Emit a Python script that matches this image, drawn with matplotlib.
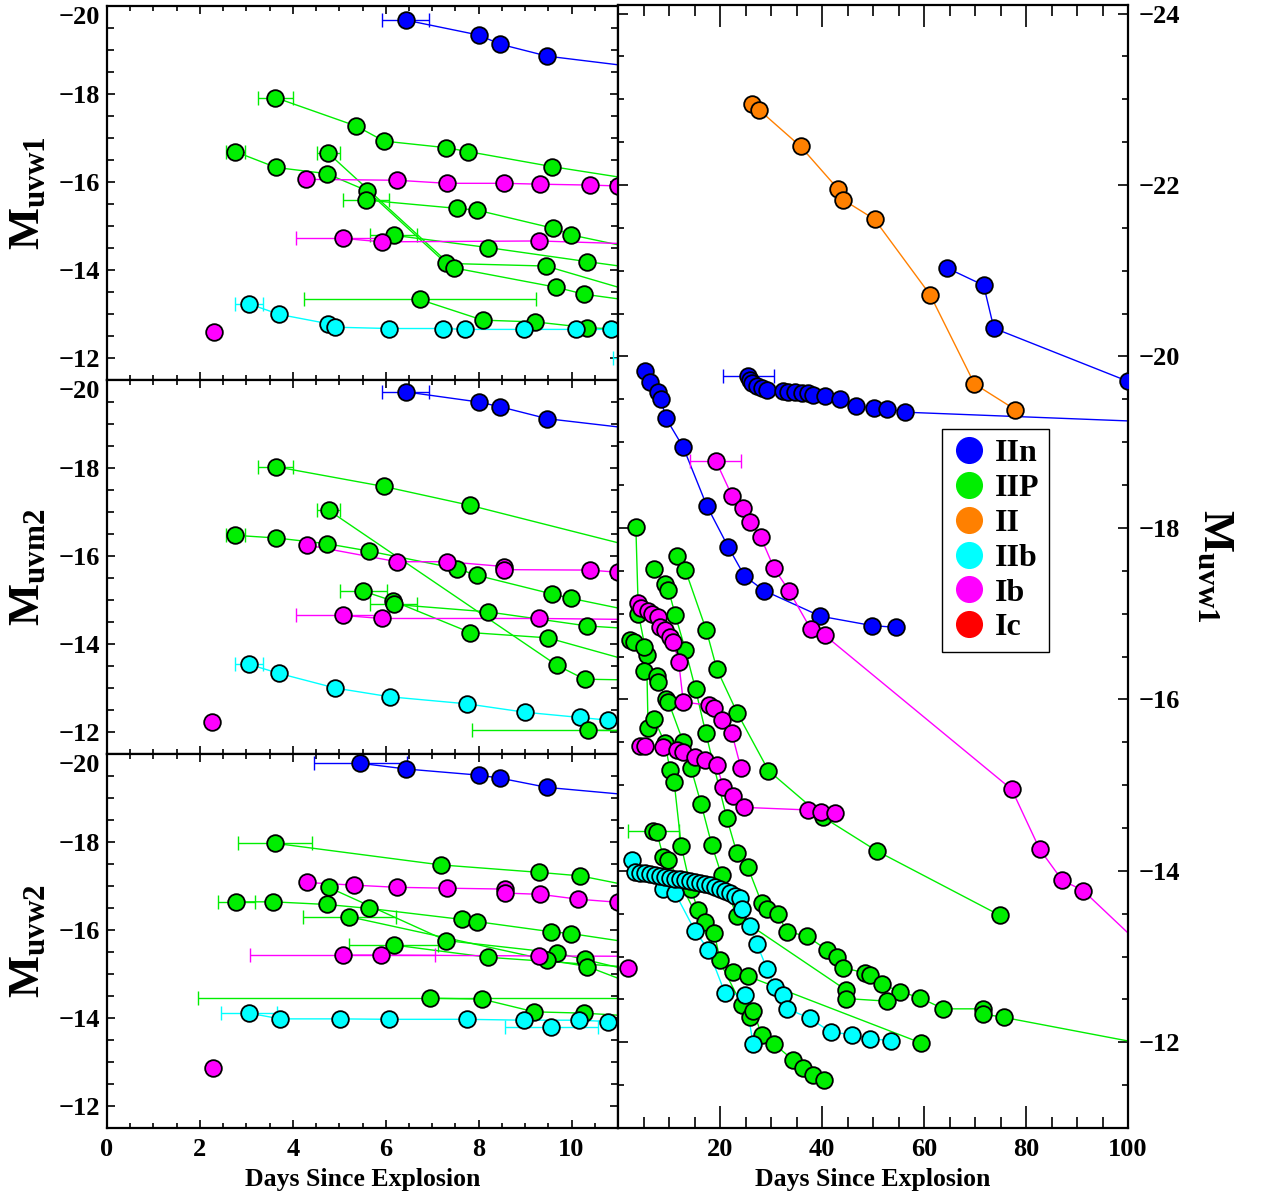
import matplotlib.pyplot as plt
from matplotlib.lines import Line2D
from matplotlib.ticker import MultipleLocator, FixedLocator

plt.rcParams['font.family'] = ['Liberation Serif', 'DejaVu Serif']
plt.rcParams['font.weight'] = 'bold'
plt.rcParams['axes.labelweight'] = 'bold'
plt.rcParams['mathtext.fontset'] = 'custom'
plt.rcParams['mathtext.rm'] = 'Liberation Serif:bold'
plt.rcParams['mathtext.bf'] = 'Liberation Serif:bold'

types = ['IIn', 'IIP', 'II', 'IIb', 'Ib', 'Ic']
colors = {'IIn': '#0000ff', 'IIP': '#00ee00', 'II': '#ff8000',
          'IIb': '#00ffff', 'Ib': '#ff00ff', 'Ic': '#ff0000'}

# ---- uvw1, first 11 days (top left) ----
w1_iin_x = [6.43, 8.0, 8.47, 9.48, 12.5]
w1_iin_y = [-19.68, -19.34, -19.13, -18.86, -18.47]
w1_iin_err = 0.5
w1_iip_a_x = [3.62, 5.37, 5.96, 7.30, 7.78, 9.58, 12.0]
w1_iip_a_y = [-17.92, -17.27, -16.93, -16.78, -16.69, -16.35, -15.95]
w1_iip_a_err = 0.38
w1_iip_b_x = [2.76, 3.64, 4.73, 5.60, 7.30, 9.45, 12.0]
w1_iip_b_y = [-16.69, -16.33, -16.19, -15.80, -14.15, -14.09, -13.3]
w1_iip_b_err = 0.2
w1_iip_c_x = [4.76, 7.46, 9.66, 10.27, 12.0]
w1_iip_c_y = [-16.66, -14.05, -13.61, -13.45, -13.2]
w1_iip_c_err = 0.25
w1_iip_d_x = [5.57, 7.54, 7.97, 9.60, 9.98, 12.0]
w1_iip_d_y = [-15.59, -15.40, -15.36, -14.95, -14.80, -14.35]
w1_iip_d_err = 0.5
w1_iip_e_x = [6.17, 8.2, 10.34, 12.0]
w1_iip_e_y = [-14.79, -14.51, -14.19, -13.95]
w1_iip_e_err = 0.5
w1_iip_f_x = [6.73, 8.09, 9.22, 10.34, 12.0]
w1_iip_f_y = [-13.33, -12.86, -12.82, -12.69, -12.6]
w1_iip_f_err = 2.5
w1_ib_a_x = [4.29, 6.24, 7.32, 8.55, 9.33, 10.39, 11.0]
w1_ib_a_y = [-16.06, -16.04, -15.97, -15.97, -15.95, -15.93, -15.91]
w1_ib_b_x = [5.07, 5.91, 9.30, 12.0]
w1_ib_b_y = [-14.72, -14.64, -14.66, -14.57]
w1_ib_b_err = 1.0
w1_ib_c_x = [2.30]
w1_ib_c_y = [-12.58]
w1_iib_a_x = [3.06, 3.71, 4.76, 4.91, 6.08, 7.23, 7.70, 8.97, 10.09, 10.84]
w1_iib_a_y = [-13.23, -12.99, -12.78, -12.70, -12.67, -12.67, -12.65, -12.65, -12.65, -12.65]
w1_iib_a_err = 0.3
w1_iib_b_x = [12.6]
w1_iib_b_y = [-12.0]
w1_iib_b_err = 1.7

# ---- uvm2, first 11 days (middle left) ----
m2_iin_x = [6.43, 8.0, 8.47, 9.48, 12.5]
m2_iin_y = [-19.73, -19.5, -19.39, -19.12, -18.75]
m2_iin_err = 0.5
m2_iip_a_x = [3.63, 5.96, 7.82, 12.5]
m2_iip_a_y = [-18.03, -17.58, -17.15, -15.9]
m2_iip_a_err = 0.38
m2_iip_b_x = [4.77, 9.68, 10.28, 12.0]
m2_iip_b_y = [-17.04, -13.52, -13.20, -13.17]
m2_iip_b_err = 0.25
m2_iip_c_x = [2.76, 3.64, 4.73, 5.65, 7.54, 7.97, 9.57, 9.98, 12.0]
m2_iip_c_y = [-16.47, -16.41, -16.28, -16.11, -15.71, -15.56, -15.14, -15.04, -14.6]
m2_iip_c_err = 0.2
m2_iip_d_x = [5.52, 6.15, 7.82, 9.49, 12.0]
m2_iip_d_y = [-15.20, -14.98, -14.26, -14.14, -13.4]
m2_iip_d_err = 0.5
m2_iip_e_x = [6.17, 8.2, 10.34, 12.0]
m2_iip_e_y = [-14.9, -14.73, -14.41, -14.3]
m2_iip_e_err = 0.5
m2_iip_f_x = [10.36, 12.5]
m2_iip_f_y = [-12.04, -12.02]
m2_iip_f_err = 2.5
m2_ib_a_x = [4.30, 6.24, 7.32, 8.55, 8.55, 10.39, 11.0]
m2_ib_a_y = [-16.25, -15.87, -15.87, -15.76, -15.69, -15.68, -15.63]
m2_ib_b_x = [5.07, 5.91, 9.30, 12.0]
m2_ib_b_y = [-14.65, -14.58, -14.58, -14.55]
m2_ib_b_err = 1.0
m2_ib_c_x = [2.27]
m2_ib_c_y = [-12.23]
m2_iib_x = [3.05, 3.71, 4.91, 6.09, 7.75, 8.99, 10.18, 10.78]
m2_iib_y = [-13.54, -13.33, -13.0, -12.80, -12.64, -12.45, -12.33, -12.27]
m2_iib_err = 0.3

# ---- uvw2, first 11 days (bottom left) ----
w2_iin_x = [5.45, 6.43, 8.0, 8.47, 9.48, 12.5]
w2_iin_y = [-19.79, -19.66, -19.52, -19.45, -19.24, -18.95]
w2_iin_err = 1.0
w2_iip_a_x = [3.62, 7.18, 9.30, 10.19, 12.0]
w2_iip_a_y = [-17.97, -17.48, -17.31, -17.23, -16.85]
w2_iip_a_err = 0.8
w2_iip_b_x = [2.78, 3.58, 4.73, 5.65, 7.64, 7.97, 9.56, 9.98, 12.0]
w2_iip_b_y = [-16.64, -16.64, -16.58, -16.49, -16.24, -16.19, -15.96, -15.92, -15.6]
w2_iip_b_err = 0.4
w2_iip_c_x = [4.77, 7.30, 9.68, 10.28, 12.0]
w2_iip_c_y = [-16.97, -15.76, -15.48, -15.33, -14.9]
w2_iip_d_x = [5.22, 9.48, 10.34, 12.0]
w2_iip_d_y = [-16.30, -15.32, -15.17, -14.5]
w2_iip_d_err = 1.0
w2_iip_e_x = [6.17, 8.2, 12.0]
w2_iip_e_y = [-15.66, -15.38, -15.1]
w2_iip_e_err = 0.95
w2_iip_f_x = [6.96, 8.07, 9.20, 10.27, 12.0]
w2_iip_f_y = [-14.45, -14.43, -14.14, -14.11, -14.0]
w2_iip_f_err = 5.0
w2_ib_a_x = [4.30, 5.31, 6.24, 7.32, 8.56, 8.56, 9.33, 10.14, 11.0]
w2_ib_a_y = [-17.08, -17.02, -16.97, -16.95, -16.93, -16.84, -16.81, -16.70, -16.63]
w2_ib_b_x = [5.07, 5.90, 9.30, 12.0]
w2_ib_b_y = [-15.43, -15.43, -15.41, -15.40]
w2_ib_b_err = 2.0
w2_ib_c_x = [2.29]
w2_ib_c_y = [-12.86]
w2_iib_a_x = [3.06, 3.73, 5.01, 6.08, 7.75, 8.98, 10.17, 10.78]
w2_iib_a_y = [-14.11, -13.98, -13.98, -13.97, -13.97, -13.95, -13.95, -13.92]
w2_iib_a_err = 0.6
w2_iib_b_x = [9.56]
w2_iib_b_y = [-13.80]
w2_iib_b_err = 1.0

# ---- uvw1, full light curves (right) ----
r_iin_a_x = [5.3, 6.3, 7.9, 8.4, 9.4, 12.8, 17.4, 21.6, 24.8, 28.6, 39.7, 49.9, 54.6]
r_iin_a_y = [-19.83, -19.70, -19.58, -19.50, -19.28, -18.94, -18.26, -17.78, -17.44,
             -17.27, -16.97, -16.86, -16.84]
r_iin_b_x = [25.5, 25.9, 26.3, 27.2, 28.2, 29.3, 32.4, 33.4, 34.7, 36.0, 37.3, 38.2,
             40.6, 43.6, 46.7, 50.1, 52.7, 56.3, 125.0]
r_iin_b_y = [-19.77, -19.72, -19.69, -19.65, -19.63, -19.61, -19.60, -19.58, -19.58,
             -19.57, -19.57, -19.55, -19.54, -19.50, -19.42, -19.40, -19.39, -19.35, -19.19]
r_iin_b_err = 5.0
r_iin_c_x = [64.6, 71.7, 73.7, 100.0]
r_iin_c_y = [-21.03, -20.83, -20.33, -19.71]
r_ii_x = [26.2, 27.6, 35.8, 43.2, 44.1, 50.3, 61.2, 69.9, 77.9]
r_ii_y = [-22.94, -22.88, -22.45, -21.95, -21.83, -21.60, -20.72, -19.68, -19.38]
r_ib_a_x = [19.2, 22.4, 24.6, 25.9, 28.0, 30.6, 33.5, 37.8, 40.5, 77.2, 82.7, 87.1, 91.2, 104.0]
r_ib_a_y = [-18.78, -18.37, -18.23, -18.07, -17.89, -17.53, -17.27, -16.82, -16.75,
            -14.95, -14.25, -13.89, -13.77, -13.05]
r_ib_a_err = 5.0
r_ib_b_x = [4.0, 4.6, 5.8, 6.6, 7.8, 8.2, 9.2, 10.2, 10.8, 11.9, 12.8, 17.9, 18.9, 20.3,
            22.3, 24.1]
r_ib_b_y = [-17.12, -17.07, -17.03, -17.00, -16.96, -16.85, -16.81, -16.73, -16.67,
            -16.44, -15.97, -15.93, -15.90, -15.76, -15.61, -15.20]
r_ib_c_x = [4.3, 5.3, 8.9, 11.5, 12.8, 15.1, 17.1, 19.4, 20.6, 22.6, 24.8, 37.3, 39.9, 42.5]
r_ib_c_y = [-15.46, -15.46, -15.44, -15.41, -15.39, -15.33, -15.29, -15.23, -14.98,
            -14.87, -14.74, -14.71, -14.69, -14.67]
r_ib_d_x = [2.0]
r_ib_d_y = [-12.87]
r_iib_a_x = [2.8, 3.3, 4.3, 5.3, 6.3, 7.3, 8.2, 9.2, 10.2, 11.2, 12.2, 13.1, 14.1, 15.1,
             16.1, 17.1, 18.0, 19.0, 20.0, 21.0, 22.0, 23.0, 23.9, 24.3, 25.9, 27.2, 29.2,
             30.8, 32.4, 33.2, 37.6, 41.7, 45.8, 49.5, 53.5]
r_iib_a_y = [-14.13, -13.99, -13.98, -13.97, -13.96, -13.95, -13.94, -13.93, -13.92,
             -13.91, -13.90, -13.89, -13.88, -13.87, -13.86, -13.85, -13.83, -13.81,
             -13.79, -13.77, -13.74, -13.71, -13.68, -13.56, -13.36, -13.15, -12.86,
             -12.64, -12.55, -12.39, -12.28, -12.12, -12.09, -12.04, -12.02]
r_iib_b_x = [8.9, 11.2, 15.1, 17.7, 21.0, 24.9, 26.5]
r_iib_b_y = [-13.79, -13.74, -13.30, -13.08, -12.57, -12.55, -11.98]
r_iip_a_x = [3.5, 4.0, 5.6, 5.9, 7.1, 9.2, 10.2, 11.0, 12.4, 14.3, 15.7, 17.1, 18.9, 20.0,
             22.6, 25.5, 59.5]
r_iip_a_y = [-18.01, -17.00, -16.52, -15.67, -15.77, -15.49, -15.18, -15.04, -14.29,
             -13.79, -13.54, -13.40, -13.27, -12.96, -12.82, -12.77, -11.99]
r_iip_b_x = [7.1, 9.2, 9.9, 11.2, 13.2, 15.2, 17.2, 21.3, 23.3, 25.4, 28.2, 29.2, 31.3,
             33.1, 37.0, 40.9, 43.0, 44.1, 48.4, 49.4, 51.7, 55.3, 59.2, 63.8, 71.5, 71.6,
             75.7, 104.0]
r_iip_b_y = [-17.52, -17.35, -17.28, -16.99, -16.58, -16.12, -15.61, -14.62, -14.21,
             -14.05, -13.62, -13.56, -13.50, -13.29, -13.24, -13.08, -12.99, -12.87,
             -12.81, -12.79, -12.68, -12.59, -12.52, -12.39, -12.39, -12.33, -12.29, -11.97]
r_iip_c_x = [11.6, 13.2, 17.3, 19.4, 23.4, 29.5, 40.1, 50.8, 74.9]
r_iip_c_y = [-17.67, -17.51, -16.81, -16.35, -15.84, -15.17, -14.63, -14.23, -13.48]
r_iip_d_x = [2.3, 3.2, 5.0, 5.1, 7.7, 7.9, 9.5, 9.9, 12.8, 14.3, 16.3, 18.4, 20.3, 23.3,
             44.7, 44.7, 52.7]
r_iip_d_y = [-16.69, -16.67, -16.61, -16.33, -16.27, -16.20, -16.00, -15.97, -15.50,
             -15.20, -14.78, -14.30, -13.95, -13.47, -12.61, -12.51, -12.48]
r_iip_e_x = [6.9, 7.6, 8.9, 9.9, 24.3, 25.9, 26.5, 28.2, 30.6, 34.4, 36.3, 38.3, 40.3]
r_iip_e_y = [-14.46, -14.45, -14.16, -14.13, -12.43, -12.30, -12.37, -12.08, -11.98,
             -11.79, -11.70, -11.62, -11.56]
r_iip_e_err = 5.0

panel_w1 = [('IIn', w1_iin_x, w1_iin_y, w1_iin_err),
            ('IIP', w1_iip_a_x, w1_iip_a_y, w1_iip_a_err),
            ('IIP', w1_iip_b_x, w1_iip_b_y, w1_iip_b_err),
            ('IIP', w1_iip_c_x, w1_iip_c_y, w1_iip_c_err),
            ('IIP', w1_iip_d_x, w1_iip_d_y, w1_iip_d_err),
            ('IIP', w1_iip_e_x, w1_iip_e_y, w1_iip_e_err),
            ('IIP', w1_iip_f_x, w1_iip_f_y, w1_iip_f_err),
            ('Ib', w1_ib_a_x, w1_ib_a_y, 0),
            ('Ib', w1_ib_b_x, w1_ib_b_y, w1_ib_b_err),
            ('Ib', w1_ib_c_x, w1_ib_c_y, 0),
            ('IIb', w1_iib_a_x, w1_iib_a_y, w1_iib_a_err),
            ('IIb', w1_iib_b_x, w1_iib_b_y, w1_iib_b_err)]
panel_m2 = [('IIn', m2_iin_x, m2_iin_y, m2_iin_err),
            ('IIP', m2_iip_a_x, m2_iip_a_y, m2_iip_a_err),
            ('IIP', m2_iip_b_x, m2_iip_b_y, m2_iip_b_err),
            ('IIP', m2_iip_c_x, m2_iip_c_y, m2_iip_c_err),
            ('IIP', m2_iip_d_x, m2_iip_d_y, m2_iip_d_err),
            ('IIP', m2_iip_e_x, m2_iip_e_y, m2_iip_e_err),
            ('Ib', m2_ib_a_x, m2_ib_a_y, 0),
            ('Ib', m2_ib_b_x, m2_ib_b_y, m2_ib_b_err),
            ('Ib', m2_ib_c_x, m2_ib_c_y, 0),
            ('IIb', m2_iib_x, m2_iib_y, m2_iib_err),
            ('IIP', m2_iip_f_x, m2_iip_f_y, m2_iip_f_err)]
panel_w2 = [('IIn', w2_iin_x, w2_iin_y, w2_iin_err),
            ('IIP', w2_iip_a_x, w2_iip_a_y, w2_iip_a_err),
            ('IIP', w2_iip_b_x, w2_iip_b_y, w2_iip_b_err),
            ('IIP', w2_iip_c_x, w2_iip_c_y, 0),
            ('IIP', w2_iip_d_x, w2_iip_d_y, w2_iip_d_err),
            ('IIP', w2_iip_e_x, w2_iip_e_y, w2_iip_e_err),
            ('IIP', w2_iip_f_x, w2_iip_f_y, w2_iip_f_err),
            ('Ib', w2_ib_a_x, w2_ib_a_y, 0),
            ('Ib', w2_ib_b_x, w2_ib_b_y, w2_ib_b_err),
            ('Ib', w2_ib_c_x, w2_ib_c_y, 0),
            ('IIb', w2_iib_a_x, w2_iib_a_y, w2_iib_a_err),
            ('IIb', w2_iib_b_x, w2_iib_b_y, w2_iib_b_err)]
panel_r = [('II', r_ii_x, r_ii_y, 0),
           ('IIn', r_iin_c_x, r_iin_c_y, 0),
           ('IIn', r_iin_b_x, r_iin_b_y, r_iin_b_err),
           ('IIn', r_iin_a_x, r_iin_a_y, 0),
           ('Ib', r_ib_a_x, r_ib_a_y, r_ib_a_err),
           ('IIP', r_iip_a_x, r_iip_a_y, 0),
           ('IIP', r_iip_b_x, r_iip_b_y, 0),
           ('IIP', r_iip_c_x, r_iip_c_y, 0),
           ('IIP', r_iip_d_x, r_iip_d_y, 0),
           ('Ib', r_ib_b_x, r_ib_b_y, 0),
           ('Ib', r_ib_c_x, r_ib_c_y, 0),
           ('IIP', r_iip_e_x, r_iip_e_y, r_iip_e_err),
           ('IIb', r_iib_b_x, r_iib_b_y, 0),
           ('IIb', r_iib_a_x, r_iib_a_y, 0),
           ('Ib', r_ib_d_x, r_ib_d_y, 0)]


def draw(ax, kind, x, y, err):
    c = colors[kind]
    ax.plot(x, y, '-', color=c, lw=1.0, zorder=2)
    if err:
        ax.errorbar(x[:1], y[:1], xerr=[err], fmt='none', ecolor=c,
                    elinewidth=1.0, capsize=5, capthick=1.0, zorder=2)
    ax.plot(x, y, 'o', ls='none', ms=12, mfc=c, mec='k', mew=1.3, zorder=3)


fig = plt.figure(figsize=(12.65, 11.96), dpi=100)
W, H = 1265.0, 1196.0
ax1 = fig.add_axes([107 / W, 816 / H, 511 / W, 374 / H])
ax2 = fig.add_axes([107 / W, 442 / H, 511 / W, 374 / H])
ax3 = fig.add_axes([107 / W, 68 / H, 511 / W, 374 / H])
axr = fig.add_axes([618 / W, 68 / H, 510 / W, 1123 / H])

for ax, panel in [(ax1, panel_w1), (ax2, panel_m2), (ax3, panel_w2)]:
    for kind, x, y, err in panel:
        draw(ax, kind, x, y, err)
    ax.set_xlim(0, 11)
    ax.set_ylim(-11.5, -20)
    ax.xaxis.set_major_locator(FixedLocator([0, 2, 4, 6, 8, 10]))
    ax.xaxis.set_minor_locator(MultipleLocator(0.5))
    ax.yaxis.set_major_locator(FixedLocator([-20, -18, -16, -14, -12]))
    ax.yaxis.set_minor_locator(MultipleLocator(0.5))
    ax.tick_params(which='both', direction='in', top=True, right=True,
                   width=1.2, labelsize=19)
    ax.tick_params(axis='x', which='major', length=6, pad=7)
    ax.tick_params(axis='x', which='minor', length=3.5)
    ax.tick_params(axis='y', which='major', length=5.5, pad=5)
    ax.tick_params(axis='y', which='minor', length=5)
    for s in ax.spines.values():
        s.set_linewidth(1.6)

ax1.tick_params(labelbottom=False)
ax2.tick_params(labelbottom=False)
ax3.set_xlabel('Days Since Explosion', fontsize=18.5, labelpad=5)

for kind, x, y, err in panel_r:
    draw(axr, kind, x, y, err)
axr.set_xlim(0, 100)
axr.set_ylim(-11.0, -24.1)
axr.xaxis.set_major_locator(FixedLocator([20, 40, 60, 80, 100]))
axr.xaxis.set_minor_locator(MultipleLocator(5))
axr.yaxis.set_major_locator(MultipleLocator(2))
axr.yaxis.set_minor_locator(MultipleLocator(0.5))
axr.tick_params(which='both', direction='in', top=True, right=True, left=True,
                labelleft=False, labelright=True, width=1.2, labelsize=19)
axr.tick_params(axis='x', which='major', length=16, pad=7)
axr.tick_params(axis='x', which='minor', length=8)
axr.tick_params(axis='y', which='major', length=7, pad=8)
axr.tick_params(axis='y', which='minor', length=4.5)
for s in axr.spines.values():
    s.set_linewidth(1.6)
axr.set_xlabel('Days Since Explosion', fontsize=18.5, labelpad=5)

for ax, lab in [(ax1, r'$\mathbf{M_{uvw1}}$'), (ax2, r'$\mathbf{M_{uvm2}}$'),
                (ax3, r'$\mathbf{M_{uvw2}}$')]:
    pos = ax.get_position()
    fig.text(28 / W, pos.y0 + pos.height / 2, lab,
             rotation=90, ha='center', va='center', fontsize=32)
fig.text(1215 / W, (H - 566) / H, r'$\mathbf{M_{uvw1}}$', rotation=270,
         ha='center', va='center', fontsize=32)

handles = [Line2D([], [], marker='o', ls='none', ms=19.5, mfc=colors[t], mew=0)
           for t in types]
leg = axr.legend(handles, types, loc='upper left', bbox_to_anchor=(0.635, 0.622),
                 fontsize=23, frameon=True, fancybox=False, framealpha=1,
                 edgecolor='k', borderpad=0.3, labelspacing=0.17,
                 handlelength=1.1, handletextpad=0.25, borderaxespad=0)
leg.get_frame().set_linewidth(1.0)

# the -20 labels hang just below their tick, as in the original
fig.canvas.draw()
for ax in [ax1, ax2, ax3]:
    for tick in ax.yaxis.get_major_ticks():
        if abs(tick.get_loc() + 20) < 1e-6:
            tick.label1.set_verticalalignment('top')

fig.savefig('out.png', dpi=100)
